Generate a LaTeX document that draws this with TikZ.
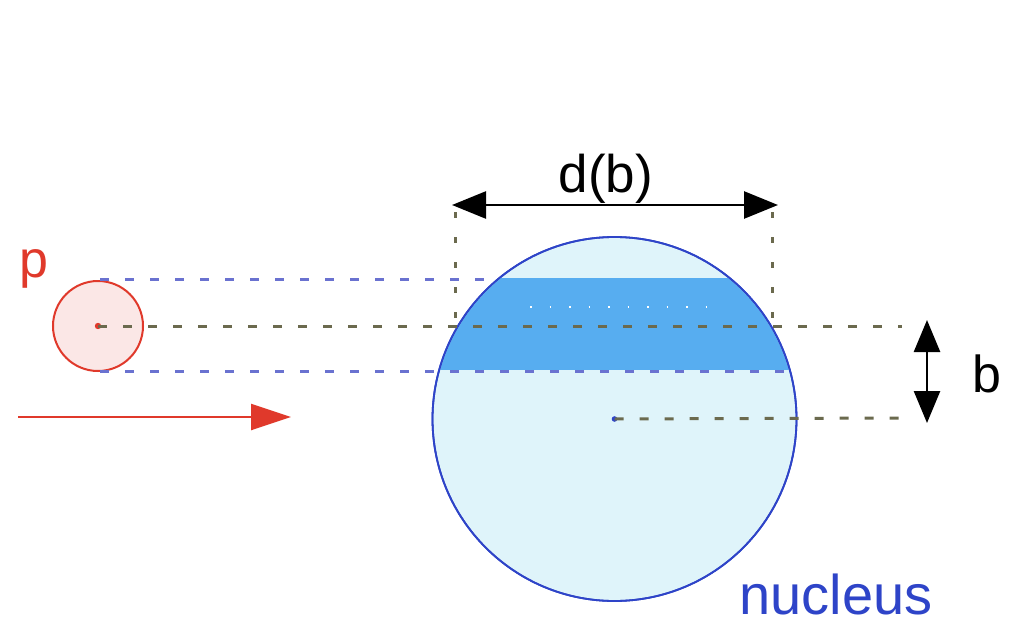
\documentclass[tikz,border=0pt]{standalone}
\usepackage{fontspec}
\setmainfont{Liberation Sans}
\usetikzlibrary{arrows.meta}
\definecolor{pred}{HTML}{E0392B}
\definecolor{nucblue}{HTML}{2E44C8}
\definecolor{nucfill}{HTML}{DFF4FA}
\definecolor{bandfill}{HTML}{57ADF0}
\definecolor{dashblue}{HTML}{6A72D0}
\definecolor{olive}{HTML}{6B6A4E}
\tikzset{
  lbl/.style={inner sep=0pt, anchor=base, text depth=0pt, font=\fontsize{52}{60}\selectfont},
  bdash/.style={dashblue, line width=3pt, dash pattern=on 9pt off 16pt},
  odash/.style={olive, line width=3pt, dash pattern=on 9pt off 16pt},
  vdot/.style={olive, line width=3pt, dash pattern=on 6pt off 19pt},
  dimarrow/.style={black, line width=2.6pt, {Triangle[length=34pt,width=27pt]}-{Triangle[length=34pt,width=27pt]}},
  barrow/.style={black, line width=2.6pt, {Triangle[length=32pt,width=26pt]}-{Triangle[length=32pt,width=26pt]}},
}
\begin{document}
\begin{tikzpicture}[x=1pt,y=-1pt]
\useasboundingbox (0,0) rectangle (1012,626);
\fill[white] (0,0) rectangle (1012,626);
% nucleus
\node[circle, draw=nucblue, fill=nucfill, line width=1.8pt, minimum size=364pt, inner sep=0pt] (nuc) at (614.5,419) {};
\begin{scope}
  \clip (614.5,419) circle (181pt);
  \fill[bandfill] (420,278) rectangle (810,370);
  \draw[white, line width=1.5pt, dash pattern=on 1.5pt off 18pt] (530,307) -- (725,307);
\end{scope}
\draw[nucblue, line width=1.8pt] (614.5,419) circle (182pt);
\coordinate (nc) at (614.5,419);
\fill[nucblue] (nc) circle (2.8pt);
% proton
\node[circle, draw=pred, fill=pred!12, line width=2pt, minimum size=90pt, inner sep=0pt] (prot) at (98,326) {};
\coordinate (pc) at (98,326);
\fill[pred] (pc) circle (3.2pt);
% dashed lines
\coordinate (t1) at (100,279);
\coordinate (t2) at (498,279);
\coordinate (u1) at (100,371);
\coordinate (u2) at (790,371);
\coordinate (m2) at (902,326);
\coordinate (l2) at (904,418);
\draw[bdash] (t1) -- (t2);
\draw[bdash] (u1) -- (u2);
\draw[odash] (pc) -- (m2);
\draw[odash] (nc) -- (l2);
% vertical dotted
\coordinate (vl1) at (455,212);
\coordinate (vl2) at (455,326);
\coordinate (vr1) at (772,212);
\coordinate (vr2) at (772,326);
\draw[vdot] (vl1) -- (vl2);
\draw[vdot] (vr1) -- (vr2);
% d(b) arrow
\coordinate (da) at (452,205);
\coordinate (db) at (778,205);
\draw[dimarrow] (da) -- (db);
\node[lbl, font=\fontsize{53}{60}\selectfont] (dlabel) at (606,192) {d(b)};
% b arrow
\coordinate (ba) at (927,320);
\coordinate (bb) at (927,423);
\draw[barrow] (ba) -- (bb);
\node[lbl] (blabel) at (987,392) {b};
% proton label and arrow
\node[lbl, text=pred] (plabel) at (34,277) {p};
\coordinate (ra) at (18,417);
\coordinate (rb) at (291,417);
\draw[pred, line width=2.4pt, -{Triangle[length=40pt,width=26pt]}] (ra) -- (rb);
% nucleus label
\node[lbl, text=nucblue, font=\fontsize{56}{60}\selectfont] (nlabel) at (836,614) {nucleus};
\end{tikzpicture}
\end{document}
